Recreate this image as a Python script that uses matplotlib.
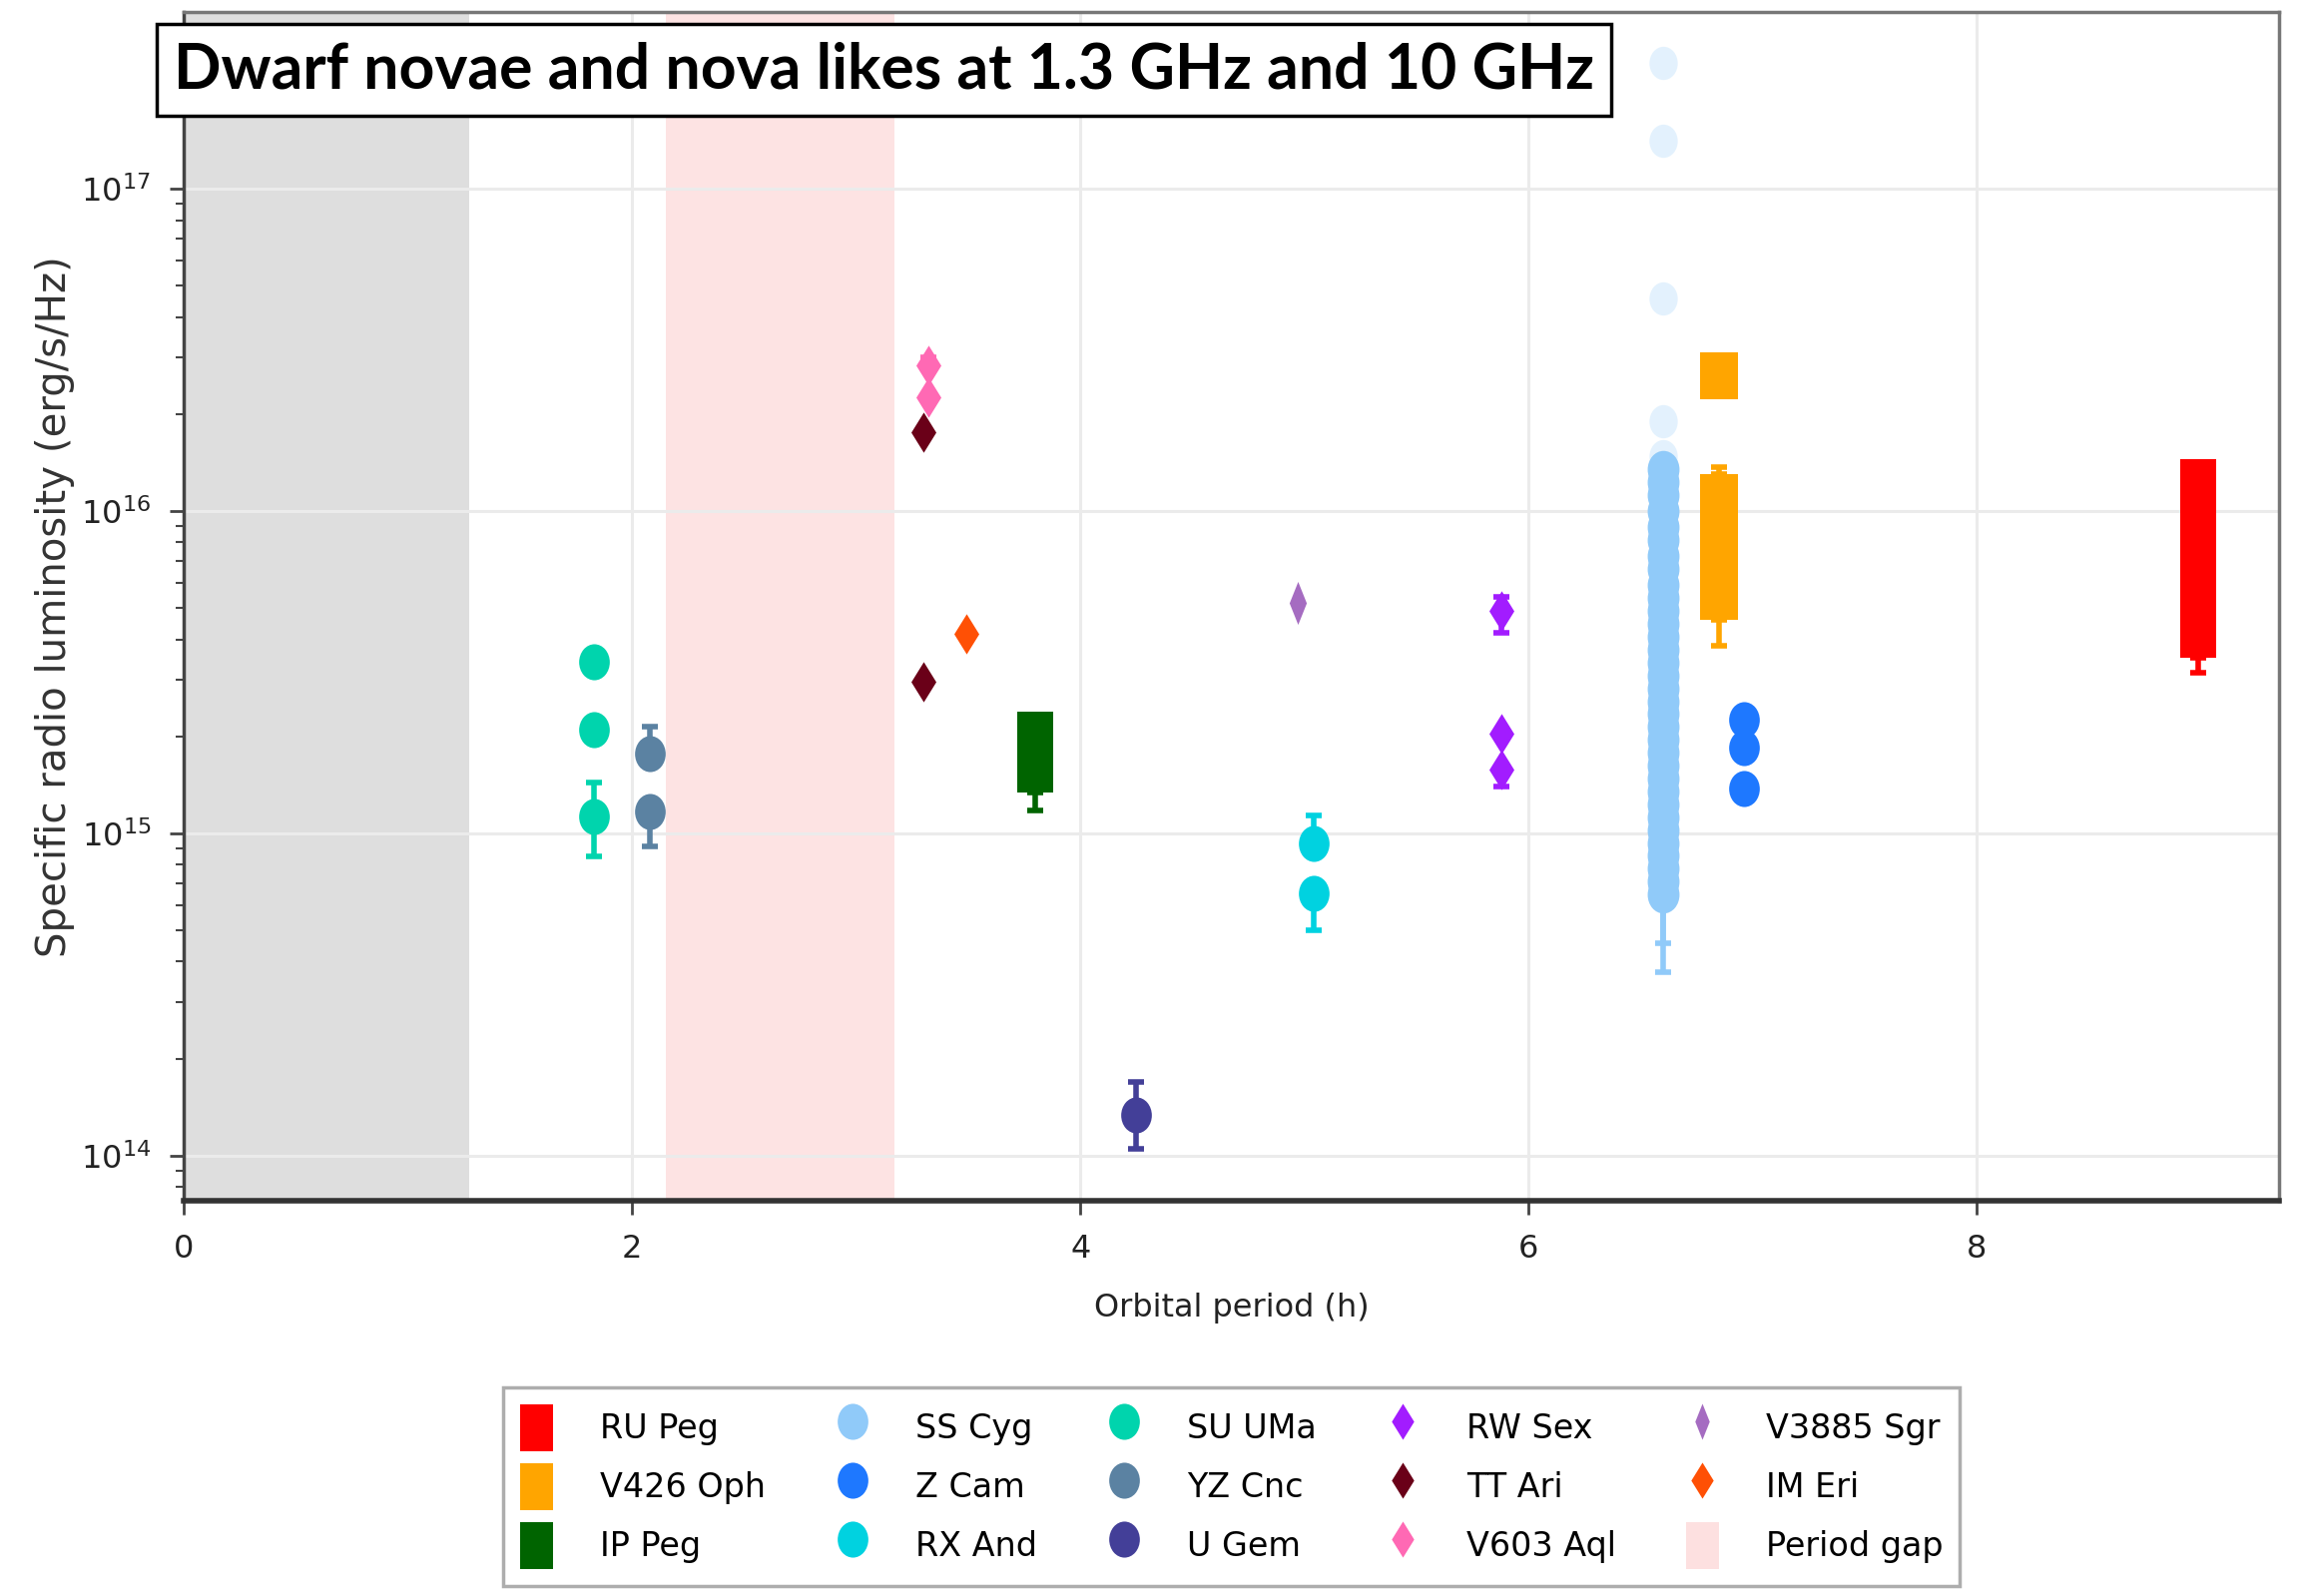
import matplotlib
matplotlib.use("Agg")
import matplotlib.pyplot as plt
import numpy as np
from matplotlib.path import Path
from matplotlib.transforms import Affine2D
from matplotlib.lines import Line2D
from matplotlib.patches import Patch

# Orbital periods (h)
per_ru_peg = 8.99
per_v426_oph = 6.85
per_ip_peg = 3.80
per_ss_cyg = 6.60
per_z_cam = 6.96
per_rx_and = 5.04
per_su_uma = 1.83
per_yz_cnc = 2.08
per_u_gem = 4.25
per_rw_sex = 5.88
per_tt_ari = 3.30
per_v603_aql = 3.32
per_v3885_sgr = 4.97
per_im_eri = 3.49

# Luminosity ranges for sources shown as boxes: (bottom, top)
box_ru_peg = [(3.5e15, 1.45e16)]
box_v426_oph = [(2.23e16, 3.1e16), (4.6e15, 1.30e16)]
box_ip_peg = [(1.34e15, 2.38e15)]

# Individual detections (erg/s/Hz)
lum_su_uma = [3.4e15, 2.1e15, 1.13e15]
lum_yz_cnc = [1.77e15, 1.17e15]
lum_u_gem = [1.34e14]
lum_rx_and = [9.3e14, 6.5e14]
lum_z_cam = [2.26e15, 1.84e15, 1.38e15]
lum_rw_sex = [4.9e15, 2.04e15, 1.58e15]
lum_tt_ari = [1.76e16, 2.95e15]
lum_v603_aql = [2.83e16, 2.26e16]
lum_v3885_sgr = [5.2e15]
lum_im_eri = [4.17e15]

# SS Cyg: log10 of luminosity (bright flare points drawn faint)
log_ss_cyg = [16.13, 16.09, 16.05, 16.00, 15.95, 15.91, 15.86, 15.82, 15.77,
              15.73, 15.69, 15.65, 15.61, 15.57, 15.53, 15.49, 15.45, 15.41,
              15.37, 15.33, 15.29, 15.25, 15.21, 15.17, 15.13, 15.09, 15.05,
              15.01, 14.97, 14.93, 14.89, 14.85, 14.81]
log_ss_cyg_flare = [17.39, 17.15, 16.66, 16.28, 16.17]

# Error bars: (value, lower, upper)
err_ru_peg = [(3.5e15, 3.15e15, 3.5e15)]
err_v426_oph = [(4.6e15, 3.82e15, 4.6e15), (1.30e16, 1.30e16, 1.37e16)]
err_ip_peg = [(1.34e15, 1.18e15, 1.34e15)]
err_su_uma = [(1.13e15, 8.5e14, 1.44e15)]
err_yz_cnc = [(1.77e15, 1.77e15, 2.14e15), (1.17e15, 9.1e14, 1.17e15)]
err_u_gem = [(1.34e14, 1.05e14, 1.69e14)]
err_rx_and = [(9.3e14, 9.3e14, 1.14e15), (6.5e14, 5.0e14, 6.5e14)]
err_rw_sex = [(4.9e15, 4.2e15, 5.4e15), (1.58e15, 1.40e15, 1.58e15)]
err_v603_aql = [(2.83e16, 2.83e16, 3.0e16)]
err_ss_cyg = [(10**14.81, 10**14.57, 10**14.81), (10**14.85, 10**14.66, 10**14.85)]

# Legend entries
names = ["RU Peg", "V426 Oph", "IP Peg", "SS Cyg", "Z Cam", "RX And",
         "SU UMa", "YZ Cnc", "U Gem", "RW Sex", "TT Ari", "V603 Aql",
         "V3885 Sgr", "IM Eri"]
colors = ["#ff0000", "#ffa500", "#006400", "#90caf9", "#1e78ff", "#00d2e0",
          "#00d4ad", "#5b82a2", "#433f98", "#a21cff", "#6a0018", "#ff69b4",
          "#a56cc1", "#ff5005"]
kinds = ["box", "box", "box", "ellipse", "ellipse", "ellipse",
         "ellipse", "ellipse", "ellipse", "diamond", "diamond", "diamond",
         "thin", "diamond"]

gap_lo, gap_hi = 2.15, 3.17
pmin_hi = 1.27

# custom marker shapes
ellipse = Path.unit_circle().transformed(Affine2D().scale(0.85, 1.0))
diamond = Path([(0, 1), (0.62, 0), (0, -1), (-0.62, 0), (0, 1)],
               [Path.MOVETO, Path.LINETO, Path.LINETO, Path.LINETO, Path.CLOSEPOLY])
thin = Path([(0, 1), (0.4, 0), (0, -1), (-0.4, 0), (0, 1)],
            [Path.MOVETO, Path.LINETO, Path.LINETO, Path.LINETO, Path.CLOSEPOLY])
markers = {"ellipse": ellipse, "diamond": diamond, "thin": thin}
col = dict(zip(names, colors))

fig = plt.figure(figsize=(23.06, 15.99), dpi=100)
ax = fig.add_axes([0.080, 0.2477, 0.910, 0.745])
ax.set_yscale("log")
ax.set_xlim(0, 9.35)
ax.set_ylim(10**13.86, 10**17.55)

ax.axvspan(0, pmin_hi, color="#d9d9d9", alpha=0.85, lw=0, zorder=0)
ax.axvspan(gap_lo, gap_hi, color="#fde0e0", alpha=0.9, lw=0, zorder=0)
ax.grid(True, which="major", color="#ebebeb", lw=2.2, zorder=0.5)
ax.set_axisbelow(True)


def draw_errors(x, errs, c):
    for v, lo, hi in errs:
        ax.errorbar([x], [v], yerr=[[v - lo], [hi - v]], fmt="none", ecolor=c,
                    elinewidth=4, capsize=6, capthick=4, zorder=2)


def draw_points(x, vals, c, shape, size, alpha=1.0):
    ax.plot([x] * len(vals), vals, ls="none", marker=markers[shape],
            ms=size, mfc=c, mec=c, mew=0, alpha=alpha, zorder=3)


def draw_boxes(x, boxes, c, width=0.16):
    for lo, hi in boxes:
        ax.bar(x, hi - lo, bottom=lo, width=width, color=c, lw=0, zorder=3)


draw_errors(per_ru_peg, err_ru_peg, col["RU Peg"])
draw_boxes(per_ru_peg, box_ru_peg, col["RU Peg"])
draw_errors(per_v426_oph, err_v426_oph, col["V426 Oph"])
draw_boxes(per_v426_oph, box_v426_oph, col["V426 Oph"], width=0.17)
draw_errors(per_ip_peg, err_ip_peg, col["IP Peg"])
draw_boxes(per_ip_peg, box_ip_peg, col["IP Peg"])

draw_errors(per_ss_cyg, err_ss_cyg, col["SS Cyg"])
draw_points(per_ss_cyg, [10**v for v in log_ss_cyg], col["SS Cyg"], "ellipse", 27)
draw_points(per_ss_cyg, [10**v for v in log_ss_cyg_flare], col["SS Cyg"], "ellipse", 24, alpha=0.25)
draw_points(per_z_cam, lum_z_cam, col["Z Cam"], "ellipse", 26)
draw_errors(per_rx_and, err_rx_and, col["RX And"])
draw_points(per_rx_and, lum_rx_and, col["RX And"], "ellipse", 26)
draw_errors(per_su_uma, err_su_uma, col["SU UMa"])
draw_points(per_su_uma, lum_su_uma, col["SU UMa"], "ellipse", 26)
draw_errors(per_yz_cnc, err_yz_cnc, col["YZ Cnc"])
draw_points(per_yz_cnc, lum_yz_cnc, col["YZ Cnc"], "ellipse", 26)
draw_errors(per_u_gem, err_u_gem, col["U Gem"])
draw_points(per_u_gem, lum_u_gem, col["U Gem"], "ellipse", 26)
draw_errors(per_rw_sex, err_rw_sex, col["RW Sex"])
draw_points(per_rw_sex, lum_rw_sex, col["RW Sex"], "diamond", 29)
draw_points(per_tt_ari, lum_tt_ari, col["TT Ari"], "diamond", 29)
draw_errors(per_v603_aql, err_v603_aql, col["V603 Aql"])
draw_points(per_v603_aql, lum_v603_aql, col["V603 Aql"], "diamond", 29)
draw_points(per_v3885_sgr, lum_v3885_sgr, col["V3885 Sgr"], "thin", 31)
draw_points(per_im_eri, lum_im_eri, col["IM Eri"], "diamond", 29)

# axes styling
ax.set_xticks([0, 2, 4, 6, 8])
ax.tick_params(axis="both", which="major", labelsize=23, length=10, width=2,
               color="#444444", labelcolor="#222222", pad=14)
ax.tick_params(axis="y", which="minor", length=6, width=1.5, color="#444444")
for side in ["top", "right"]:
    ax.spines[side].set_color("#777777")
    ax.spines[side].set_linewidth(2.5)
ax.spines["left"].set_color("#444444")
ax.spines["left"].set_linewidth(2.5)
ax.spines["bottom"].set_color("#333333")
ax.spines["bottom"].set_linewidth(4)
ax.set_xlabel("Orbital period (h)", fontsize=23, labelpad=20, color="#222222")
ax.set_ylabel("Specific radio luminosity (erg/s/Hz)", fontsize=29, labelpad=4,
              color="#333333")

# legend
handles = []
for n, c, k in zip(names, colors, kinds):
    if k == "box":
        handles.append(Patch(facecolor=c, edgecolor="none", label=n))
    else:
        handles.append(Line2D([], [], ls="none", marker=markers[k], ms=26,
                              mfc=c, mec=c, mew=0, label=n))
handles.append(Patch(facecolor="#fde0e0", edgecolor="none", label="Period gap"))
leg = fig.legend(handles=handles, loc="lower center", bbox_to_anchor=(0.535, -0.004),
                 ncol=5, fontsize=24, frameon=True, fancybox=False, edgecolor="#999999",
                 handlelength=1.0, handleheight=1.8, columnspacing=2.1, labelspacing=0.36,
                 handletextpad=1.4, borderpad=0.5)
leg.get_frame().set_linewidth(2.5)

# heading box
fig.text(0.384, 0.956, "Dwarf novae and nova likes at 1.3 GHz and 10 GHz",
         ha="center", va="center", fontsize=45, fontweight="bold", family="Lato",
         bbox=dict(boxstyle="square,pad=0.27", fc="white", ec="black", lw=2.5))

fig.savefig("out.png", dpi=100)
